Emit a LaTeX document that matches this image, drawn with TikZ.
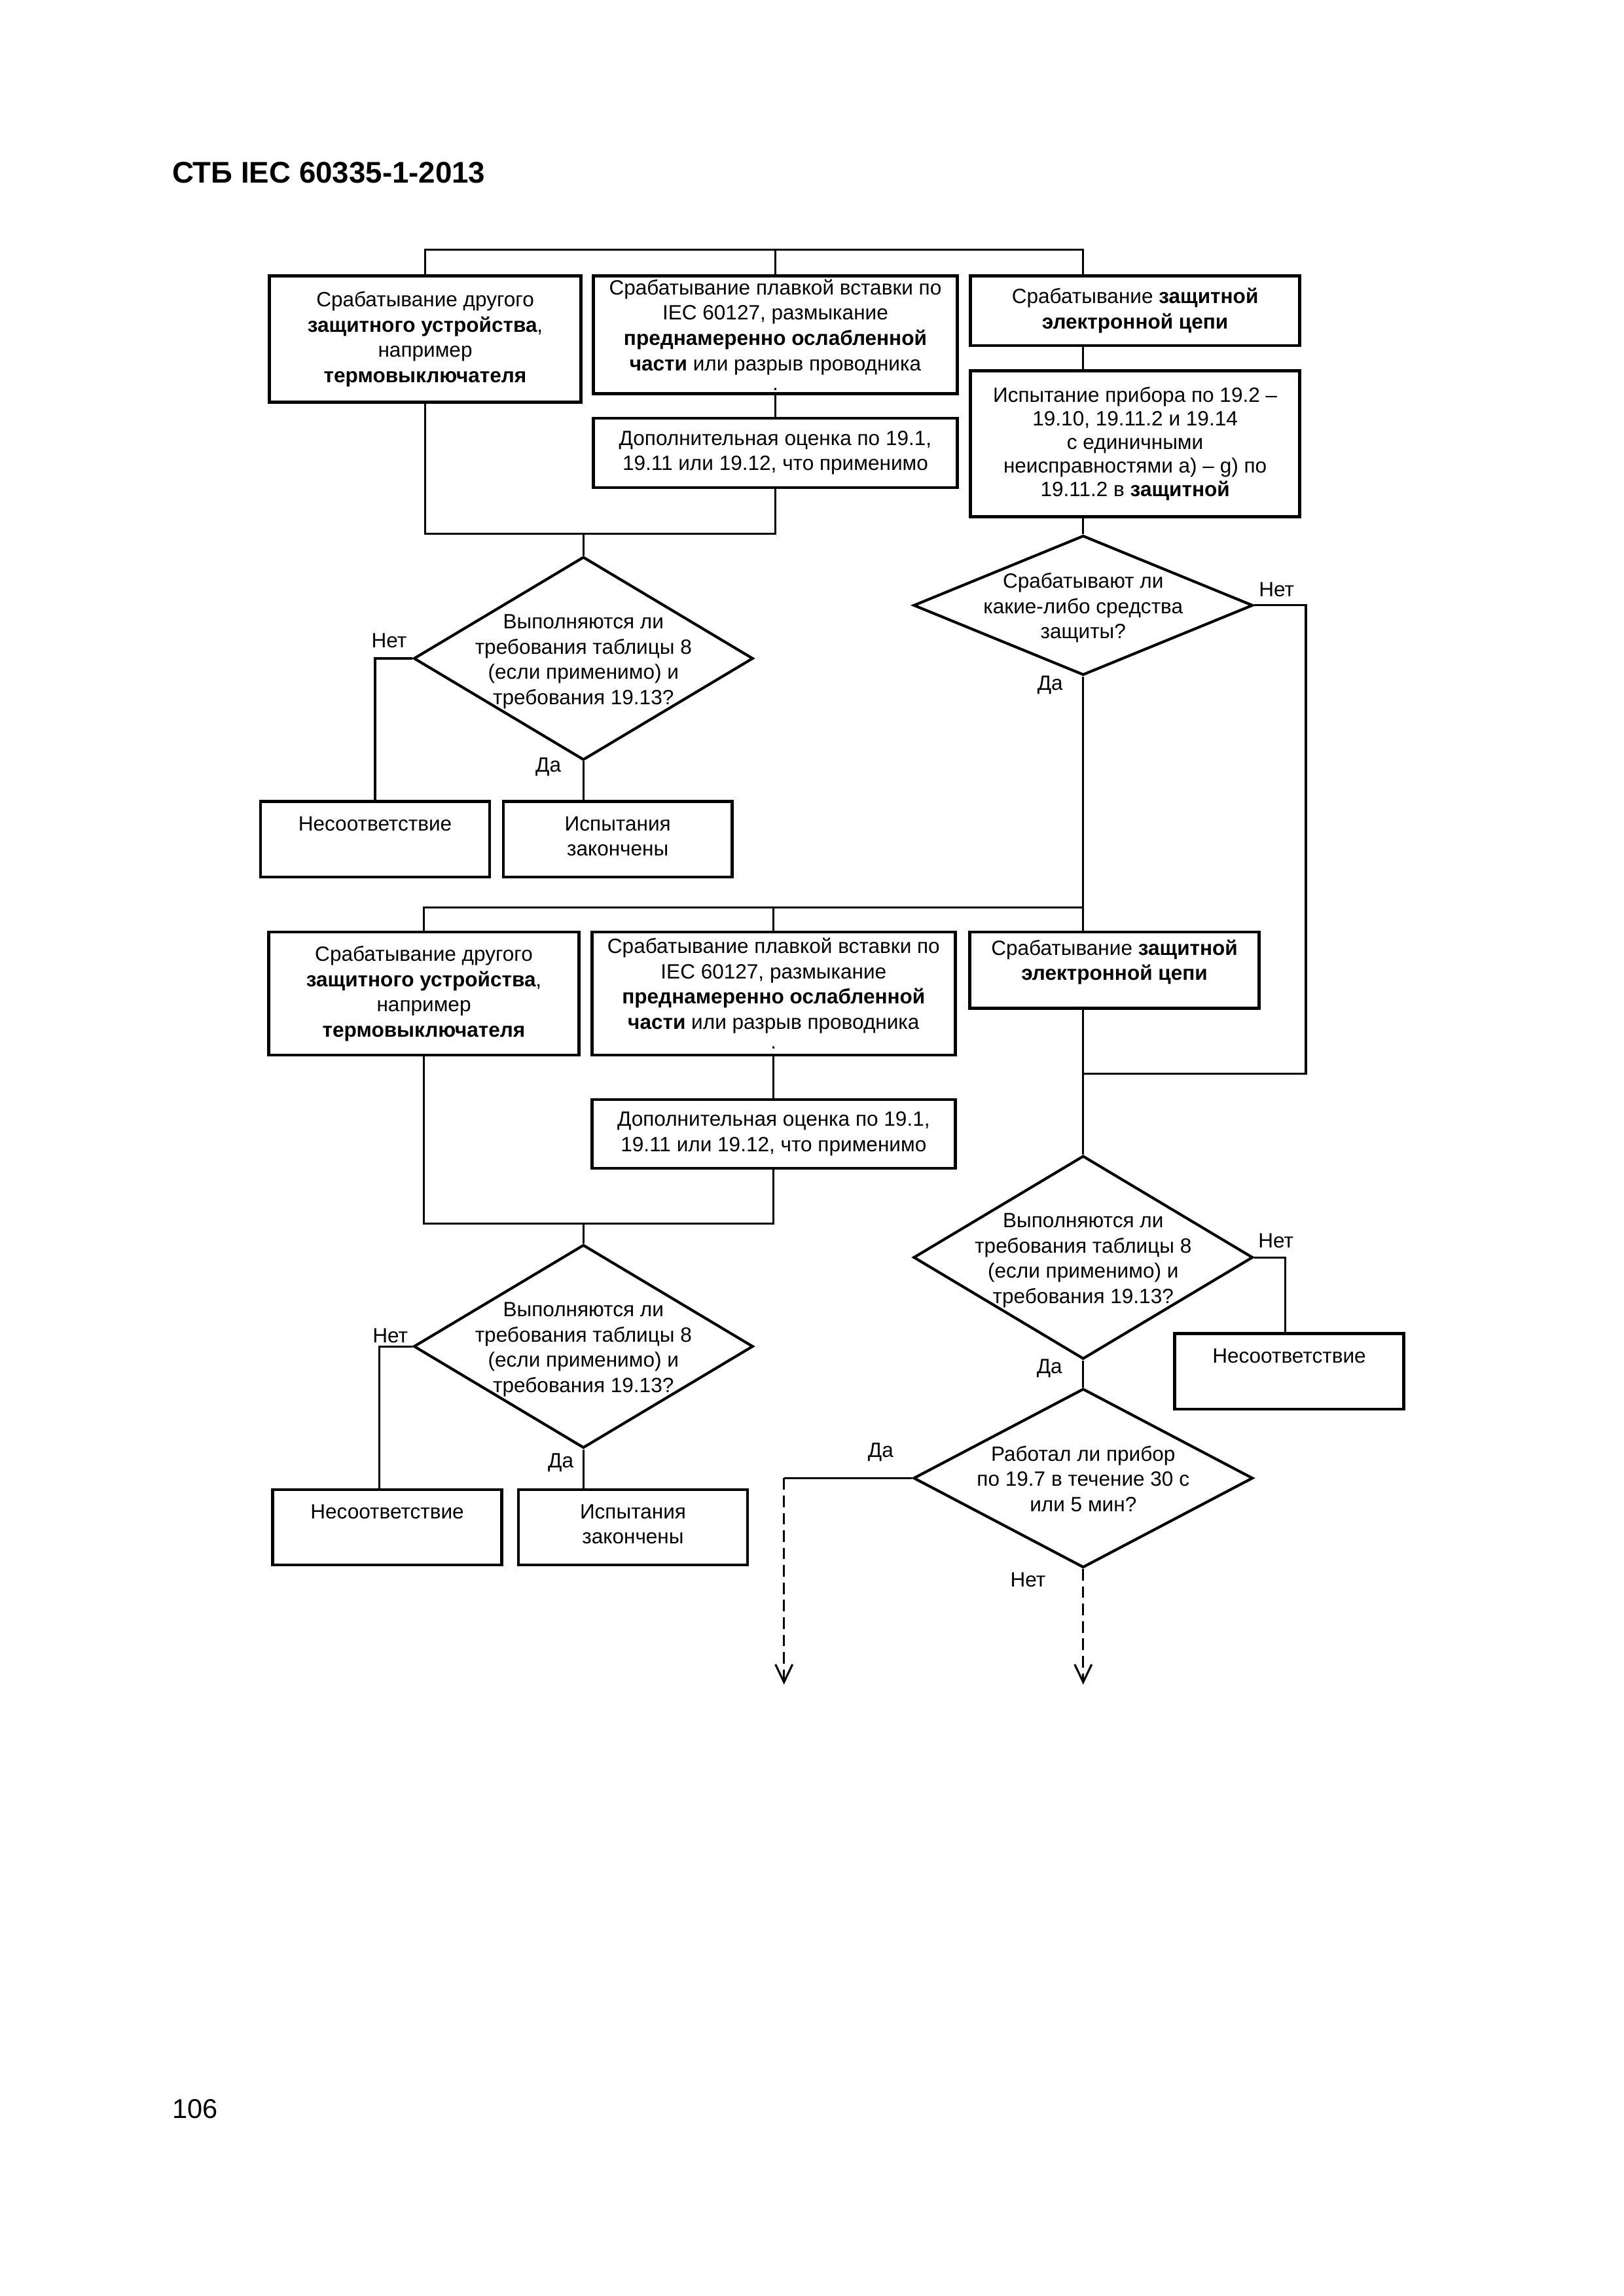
\documentclass[tikz,border=0pt]{standalone}
\usepackage{fontspec}
\setmainfont{Liberation Sans}
\usetikzlibrary{shapes.geometric,arrows.meta,positioning}

\newcommand{\boxfont}{\fontsize{7.6}{9.3}\selectfont}
% question text that does not widen the diamond
\newcommand{\qtext}[1]{\makebox[0pt]{\smash{\raisebox{-1.1mm}{\begin{tabular}{@{}c@{}}#1\end{tabular}}}}}
% text kept at the top of a box
\newcommand{\toptext}[3]{\parbox[c][#2][t]{#1}{\centering #3}}

\begin{document}
\begin{tikzpicture}[
    x=1mm,y=1mm,
    box/.style={rectangle,draw,line width=1.1pt,align=center,inner xsep=1mm,inner ysep=0.5mm,font=\boxfont},
    endbox/.style={rectangle,draw,line width=1.1pt,inner xsep=1mm,inner ysep=1.9mm,font=\boxfont,minimum width=29.6mm,minimum height=9.75mm},
    decision/.style={diamond,draw,line width=1pt,inner sep=0pt,minimum width=43.9mm,minimum height=26.3mm,font=\boxfont},
    lbl/.style={font=\boxfont,inner sep=0pt},
    conn/.style={line width=0.75pt},
    cont/.style={line width=0.75pt,dash pattern=on 1.5mm off 0.75mm,-{Straight Barb[length=2.3mm,width=2.2mm]}}
    ]

    \useasboundingbox (0,0) rectangle (210,-297);

    \node[anchor=base west,inner sep=0pt,font=\fontsize{11}{13}\selectfont\bfseries] (title) at (22.2,-23.65) {СТБ IEC 60335-1-2013};
    \node[anchor=base west,inner sep=0pt,font=\fontsize{10}{12}\selectfont] (page) at (22.2,-274.0) {106};

    % first part
    \node[box,anchor=north west,minimum width=40.3mm,minimum height=16.35mm] (a1) at (34.65,-35.5)
      {Срабатывание другого\\\textbf{защитного устройства},\\например\\\textbf{термовыключателя}};
    \node[box,right=1.2mm of a1.north east,anchor=north west,minimum width=47.1mm,minimum height=15.25mm,inner ysep=0.1mm] (b1)
      {Срабатывание плавкой вставки по\\IEC 60127, размыкание\\\textbf{преднамеренно ослабленной}\\\textbf{части} или разрыв проводника\\[-0.7mm].};
    \node[box,right=1.3mm of b1.north east,anchor=north west,minimum width=42.6mm,minimum height=9mm] (c1)
      {Срабатывание \textbf{защитной}\\\textbf{электронной цепи}};
    \node[box,below=2.9mm of c1.south west,anchor=north west,minimum width=42.6mm,minimum height=18.86mm,font=\fontsize{7.6}{8.7}\selectfont] (c2)
      {Испытание прибора по 19.2 –\\19.10, 19.11.2 и 19.14\\с единичными\\неисправностями a) – g) по\\19.11.2 в \textbf{защитной}};
    \node[box,below=2.75mm of b1.south west,anchor=north west,minimum width=47.1mm,minimum height=9mm] (b2)
      {Дополнительная оценка по 19.1,\\19.11 или 19.12, что применимо};

    \node[decision] (d1) at (75.46,-85.17)
      {\qtext{Выполняются ли\\требования таблицы 8\\(если применимо) и\\требования 19.13?}};
    \node[decision,minimum height=18.06mm] (d2) at (140.1,-78.3)
      {\qtext{Срабатывают ли\\какие-либо средства\\защиты?}};

    \node[endbox,anchor=north west] (n1) at (33.52,-103.49) {\toptext{27mm}{5.9mm}{Несоответствие}};
    \node[endbox,right=1.4mm of n1.north east,anchor=north west] (e1) {\toptext{27mm}{5.9mm}{Испытания\\закончены}};

    % second part
    \node[box,anchor=north west,minimum width=40.1mm,minimum height=15.9mm] (a3) at (34.58,-120.38)
      {Срабатывание другого\\\textbf{защитного устройства},\\например\\\textbf{термовыключателя}};
    \node[box,right=1.3mm of a3.north east,anchor=north west,minimum width=47mm,minimum height=15.9mm,inner ysep=0.1mm] (b3)
      {Срабатывание плавкой вставки по\\IEC 60127, размыкание\\\textbf{преднамеренно ослабленной}\\\textbf{части} или разрыв проводника\\[-0.7mm].};
    \node[box,right=1.5mm of b3.north east,anchor=north west,minimum width=37.4mm,minimum height=9.83mm,inner ysep=0.95mm] (c3)
      {\toptext{35.4mm}{7.9mm}{Срабатывание \textbf{защитной}\\\textbf{электронной цепи}}};
    \node[box,below=5.37mm of b3.south west,anchor=north west,minimum width=47mm,minimum height=8.9mm] (b4)
      {Дополнительная оценка по 19.1,\\19.11 или 19.12, что применимо};

    \node[decision] (d3) at (140.1,-162.65)
      {\qtext{Выполняются ли\\требования таблицы 8\\(если применимо) и\\требования 19.13?}};
    \node[decision] (d4) at (75.46,-174.16)
      {\qtext{Выполняются ли\\требования таблицы 8\\(если применимо) и\\требования 19.13?}};
    \node[endbox,anchor=north west] (n3) at (151.75,-172.32) {\toptext{27mm}{5.9mm}{Несоответствие}};
    \node[decision,minimum height=23.15mm] (d5) at (140.1,-191.2)
      {\qtext{Работал ли прибор\\по 19.7 в течение 30 с\\или 5 мин?}};

    \node[endbox,anchor=north west] (n4) at (35.09,-192.49) {\toptext{27mm}{5.9mm}{Несоответствие}};
    \node[endbox,right=1.8mm of n4.north east,anchor=north west] (e4) {\toptext{27mm}{5.9mm}{Испытания\\закончены}};

    % answers
    \node[lbl] (d1no) at ([shift={(-3mm,2.27mm)}]d1.west) {Нет};
    \node[lbl] (d1yes) at ([shift={(-4.54mm,-0.71mm)}]d1.south) {Да};
    \node[lbl] (d2no) at ([shift={(2.88mm,2.04mm)}]d2.east) {Нет};
    \node[lbl] (d2yes) at ([shift={(-4.28mm,-1.1mm)}]d2.south) {Да};
    \node[lbl] (d3no) at ([shift={(2.8mm,2.14mm)}]d3.east) {Нет};
    \node[lbl] (d3yes) at ([shift={(-4.36mm,-1.06mm)}]d3.south) {Да};
    \node[lbl] (d4no) at ([shift={(-2.85mm,1.4mm)}]d4.west) {Нет};
    \node[lbl] (d4yes) at ([shift={(-2.93mm,-1.72mm)}]d4.south) {Да};
    \node[lbl] (d5yes) at ([shift={(-4.07mm,3.33mm)}]d5.west) {Да};
    \node[lbl] (d5no) at ([shift={(-7.14mm,-1.4mm)}]d5.south) {Нет};

    % connectors, first part
    \coordinate (top1) at ([yshift=3.2mm]a1.north);
    \draw[conn] (a1.north) -- (top1) -- (top1 -| d2) -- (c1.north -| d2);
    \draw[conn] (b1.north) -- (b1.north |- top1);
    \draw[conn] (b1) -- (b2);
    \draw[conn] (c1.south -| d2) -- (c2.north -| d2);
    \draw[conn] (c2.south -| d2) -- (d2.north);
    \coordinate (join1) at ([yshift=-5.8mm]b2.south);
    \draw[conn] (a1.south) |- (join1) -- (b2.south);
    \draw[conn] (d1.north) -- (d1.north |- join1);
    \draw[conn] (d1.west) -| (n1.north);
    \draw[conn] (d1.south) -- (d1.south |- e1.north);

    \coordinate (loop) at (168.9,-138.88);
    \draw[conn] (d2.east) -| (loop) -- (loop -| d2);
    \draw[conn] (d2.south) -- (c3.north -| d2);

    % connectors, second part
    \coordinate (top2) at ([yshift=3mm]a3.north);
    \draw[conn] (a3.north) -- (top2) -- (top2 -| d2);
    \draw[conn] (b3.north) -- (b3.north |- top2);
    \draw[conn] (b3) -- (b4);
    \draw[conn] (c3.south -| d2) -- (d3.north);
    \coordinate (join2) at ([yshift=-6.95mm]b4.south);
    \draw[conn] (a3.south) |- (join2) -- (b4.south);
    \draw[conn] (d4.north) -- (d4.north |- join2);
    \draw[conn] (d4.west) -| ([xshift=-1mm]n4.north);
    \draw[conn] (d4.south) -- (d4.south |- e4.north);
    \draw[conn] (d3.east) -| ([xshift=-0.5mm]n3.north);
    \draw[conn] (d3.south) -- (d5.north);

    \coordinate (out1) at (101.4,-217.9);
    \coordinate (out2) at (140.1,-217.9);
    \draw[conn] (d5.west) -- (d5.west -| out1);
    \draw[cont] (d5.west -| out1) -- (out1);
    \draw[cont] (d5.south) -- (out2);

\end{tikzpicture}
\end{document}
